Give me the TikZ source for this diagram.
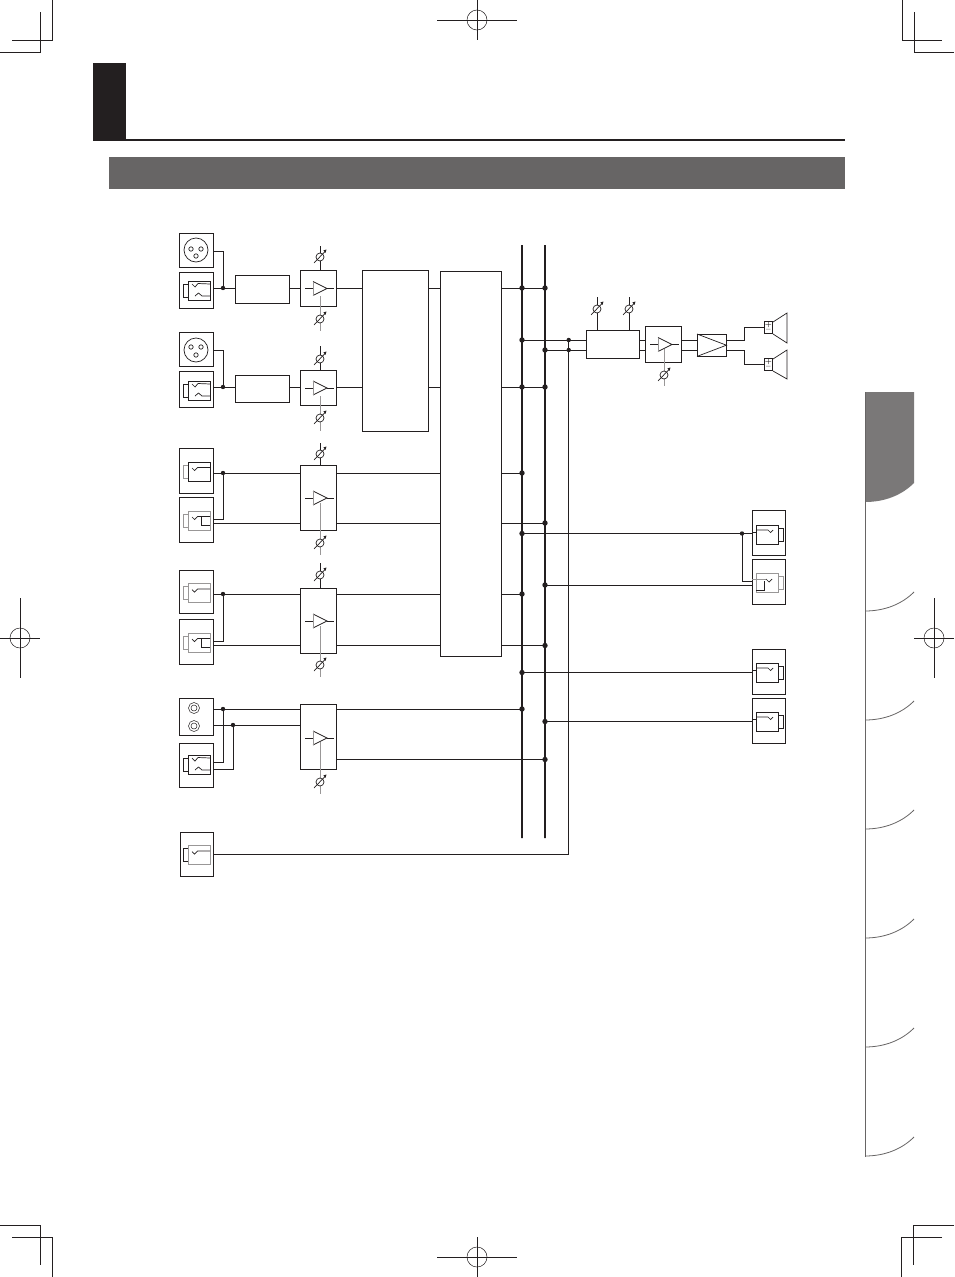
\documentclass[tikz,border=0pt]{standalone}
\usetikzlibrary{calc}
\definecolor{ink}{HTML}{231F20}
\definecolor{band}{HTML}{676565}
\definecolor{tab}{HTML}{7A7878}
\definecolor{soft}{HTML}{999797}
\tikzset{
  wire/.style={draw=ink,line width=0.9pt,line join=miter},
  blk/.style={draw=ink,line width=0.9pt,rectangle,inner sep=0pt,outer sep=0pt,fill=white},
  busline/.style={draw=ink,line width=2pt,rectangle,inner sep=0pt,outer sep=0pt,minimum width=0pt},
  icon/.style={draw=ink,line width=0.7pt},
  softicon/.style={draw=soft,line width=1pt},
  crop/.style={draw=ink,line width=0.9pt},
  reg/.style={draw=ink,line width=0.5pt},
  sign/.style={font=\fontsize{7}{7}\selectfont\bfseries,inner sep=0pt,text=ink}
}
\newcommand\blk[5]{\node[blk,minimum width={#4pt-#2pt-0.6pt},minimum height={#5pt-#3pt-0.6pt}] (#1) at ({(#2+#4)/2-0.3},{(#3+#5)/2-0.3}) {};}
\newcommand\dotat[2]{\fill[ink] (#1,#2) circle (2.2pt);}
\newcommand\busdot[2]{\fill[ink] (#1,#2) circle (2.7pt);}
% horizontal connector between two named nodes at height y
\newcommand\hw[3]{\draw[wire] (#1.east |- 0,#3) -- (#2.west |- 0,#3);}
% triangle amp symbol: x of box left, centre y
\newcommand\ampsym[2]{\begin{scope}[shift={(#1,#2)}]
  \draw[icon] (5,0) -- (13,0);
  \draw[icon] (13,-7) -- (27,0) -- (13,7);
  \draw[icon] (27,0) -- (34,0);
  \draw[softicon] (13,-7) -- (13,7);
\end{scope}}
% knob: x, y from, y to, circle y
\newcommand\knobtop[2]{\fill[white] (#1,#2) circle (4pt);
  \draw[icon] (#1,#2) circle (4pt);
  \draw[icon] ({#1-6},{#2+6}) -- ({#1+5},{#2-5.5});
  \fill[ink] ({#1+6.5},{#2-7.5}) -- ({#1+3.3},{#2-6.5}) -- ({#1+5.5},{#2-4.2}) -- cycle;}
\newcommand\knob[4]{\draw[icon] (#1,#2) -- (#1,#3);\knobtop{#1}{#4}}
\newcommand\softknob[4]{\draw[softicon] (#1,#2) -- (#1,#3);\knobtop{#1}{#4}}
% input jack outline (origin plug left, centre): #1 x, #2 y, #3 style plug, #4 style body
\newcommand\jackoutline[4]{\begin{scope}[shift={(#1,#2)}]
  \draw[#3] (5,-6.5) -- (0,-6.5) -- (0,6.5) -- (5,6.5);
  \draw[#4] (5,-9.5) rectangle (27,9.5);
\end{scope}}
\newcommand\tip[2]{\begin{scope}[shift={(#1,#2)}]
  \draw[icon] (9,-3.5) -- (11.5,-1) -- (14.5,-4) -- (27,-4);\end{scope}}
\newcommand\combotip[2]{\begin{scope}[shift={(#1,#2)}]
  \draw[icon] (9,-7) -- (12,-4) -- (15,-7.5) -- (27,-7);
  \draw[icon] (12,5) -- (15.5,2) -- (19,5) -- (27,5);\end{scope}}
\newcommand\switchtip[2]{\begin{scope}[shift={(#1,#2)}]
  \draw[icon] (9,-3.5) -- (11.5,-1) -- (14.5,-4) -- (27,-4);
  \draw[icon] (18,-4) -- (18,5) -- (27,5);\end{scope}}
% output jack: #1 y centre
\newcommand\outjack[1]{\begin{scope}[shift={(756,#1)}]
  \draw[icon] (0,-9.5) rectangle (22,9.5);
  \draw[icon] (22,-6.5) -- (27,-6.5) -- (27,6.5) -- (22,6.5);
  \draw[icon] (-4,-2) -- (0,-2);
  \draw[icon] (0,-4.5) -- (12,-4.5) -- (14.5,-2) -- (17,-4.5);
\end{scope}}
\newcommand\regmark[2]{\draw[crop] ({#1-40},#2) -- ({#1+40},#2); \draw[crop] (#1,{#2-20}) -- (#1,{#2+20});\draw[reg] (#1,#2) circle (10pt);}
\newcommand\regmarkv[2]{\draw[crop] ({#1-20},#2) -- ({#1+20},#2); \draw[crop] (#1,{#2-40}) -- (#1,{#2+40});\draw[reg] (#1,#2) circle (10pt);}
\begin{document}
\begin{tikzpicture}[x=1pt,y=-1pt]
\useasboundingbox (0,0) rectangle (954,1277);
\fill[white] (0,0) rectangle (954,1277);
% page furniture
\fill[ink] (93,63) rectangle (126,141);
\draw[ink,line width=2pt] (126,140) -- (845,140);
\fill[band] (109,157) rectangle (845,189);
\draw[crop] (52,0) -- (52,40) -- (12,40);
\draw[crop] (40,12) -- (40,52) -- (0,52);
\draw[crop] (902,0) -- (902,40) -- (942,40);
\draw[crop] (914,12) -- (914,52) -- (954,52);
\draw[crop] (0,1225) -- (40,1225) -- (40,1265);
\draw[crop] (12,1237) -- (52,1237) -- (52,1277);
\draw[crop] (954,1225) -- (913,1225) -- (913,1265);
\draw[crop] (942,1237) -- (901,1237) -- (901,1277);
\regmark{477}{20}
\regmark{477}{1257}
\regmarkv{20}{638}
\regmarkv{934}{638}
% side tabs
\fill[tab] (865,392) -- (914,392) -- (914,483) .. controls (902,495) and (885,502) .. (865,502) -- cycle;
\draw[band,line width=0.8pt] (865,392) -- (865,1157);
\foreach \yy in {611,720,829,938,1047,1156}{
  \draw[band,line width=0.8pt] (865,\yy) .. controls (885,\yy) and (902,\yy-7) .. (914,\yy-19);
}
% input panels
\blk{xlrA}{179}{233}{214}{268}
\blk{comA}{179}{272}{214}{309}
\blk{xlrB}{179}{332}{214}{367}
\blk{comB}{179}{371}{214}{408}
\blk{jkA}{179}{448}{214}{494}
\blk{jkB}{179}{497}{214}{543}
\blk{jkC}{179}{570}{214}{614}
\blk{jkD}{179}{619}{214}{665}
\blk{rca}{179}{698}{214}{736}
\blk{comC}{179}{743}{214}{788}
\blk{jkE}{180}{832}{214}{877}
% processing blocks
\blk{preA}{235}{275}{290}{304}
\blk{preB}{235}{375}{290}{403}
\blk{ampA}{300}{270}{337}{307}
\blk{ampB}{300}{370}{337}{406}
\blk{ampC}{300}{465}{337}{531}
\blk{ampD}{300}{588}{337}{654}
\blk{ampE}{300}{704}{337}{770}
\blk{proc}{362}{270}{429}{432}
\blk{mix}{440}{271}{502}{657}
\blk{vol}{586}{330}{640}{359}
\blk{ampF}{645}{326}{682}{363}
\blk{pwr}{697}{334}{727}{357}
\blk{outA}{752}{510}{786}{556}
\blk{outB}{752}{559}{786}{605}
\blk{outC}{752}{649}{786}{695}
\blk{outD}{752}{698}{786}{744}
\blk{spkA}{764}{321}{773}{334}
\blk{spkB}{764}{358}{773}{371}
% buses
\node[busline,minimum height=593pt] (busA) at (522,541.5) {};
\node[busline,minimum height=593pt] (busB) at (545,541.5) {};
\coordinate (busC) at (568.7,340);
% XLR sockets
\foreach \cy/\ha/\hb in {250/249/256,350/347/355}{
  \draw[icon] (196,\cy) circle (12pt);
  \draw[icon] (191,\ha) circle (2.2pt);
  \draw[icon] (201,\ha) circle (2.2pt);
  \draw[icon] (196,\hb) circle (2.2pt);
}
% RCA sockets
\foreach \cy in {708,726}{
  \draw[draw=ink,line width=0.5pt] (194,\cy) circle (5.5pt);
  \draw[draw=ink,line width=0.5pt] (194,\cy) circle (3pt);
}
% jack icons
\jackoutline{183}{291}{icon}{icon}\combotip{183}{291}
\jackoutline{183}{391}{icon}{icon}\combotip{183}{391}
\jackoutline{183}{471.5}{softicon}{icon}\tip{183}{471.5}
\jackoutline{183}{520.5}{softicon}{draw=soft,line width=0.8pt}\switchtip{183}{520.5}
\jackoutline{183}{593}{softicon}{softicon}\tip{183}{593}
\jackoutline{183}{642.5}{softicon}{draw=soft,line width=0.8pt}\switchtip{183}{642.5}
\jackoutline{183}{765}{icon}{icon}\combotip{183}{765}
\jackoutline{183}{855}{icon}{softicon}\tip{183}{855}
% output icons
\outjack{534.5}
\begin{scope}[shift={(756,583)}]
  \draw[softicon] (0,-9.5) rectangle (22,9.5);
  \draw[softicon] (22,-6.5) -- (27,-6.5) -- (27,6.5) -- (22,6.5);
  \draw[softicon] (-4,-4) -- (10,-4);
  \draw[icon] (10,-4) -- (13,-1) -- (16,-4);
  \draw[icon] (0,7) -- (8,7) -- (8,-2);
\end{scope}
\outjack{672.5}
\outjack{721.5}
% amp symbols and knobs
\softknob{320}{296}{331}{319}
\softknob{320}{396}{431}{418}
\softknob{320}{503}{555}{543}
\softknob{320}{626}{677}{665}
\softknob{320}{742}{794}{782}
\softknob{664}{349}{386}{375}
\knob{320}{246}{270}{257}
\knob{320}{346}{370}{359}
\knob{320}{443}{465}{454}
\knob{320}{563}{588}{575}
\knob{597}{297}{330}{309}
\knob{629}{297}{330}{309}
\ampsym{300}{288.5}
\ampsym{300}{388}
\ampsym{300}{498}
\ampsym{300}{621}
\ampsym{300}{738}
\ampsym{645}{344.5}
% power amp symbol
\draw[icon] (pwr.north west) -- (pwr.east) -- (pwr.south west);
% speakers
\draw[icon] (773,322) -- (787,313) -- (787,343) -- (773,334);
\draw[icon] (773,359) -- (787,350) -- (787,379) -- (773,371);
\node[sign] (plusA) at (768.3,325) {+};
\node[sign] (minusA) at (768.3,330.8) {--};
\node[sign] (plusB) at (768.3,362) {+};
\node[sign] (minusB) at (768.3,367.8) {--};
% connectors: channel 1
\draw[wire] (xlrA.east |- 0,251) -| (223,288);
\hw{comA}{preA}{288}
\hw{preA}{ampA}{288}
\hw{ampA}{proc}{288}
\hw{proc}{mix}{288}
\hw{mix}{busB}{288}
% channel 2
\draw[wire] (xlrB.east |- 0,350) -| (223,387);
\hw{comB}{preB}{387}
\hw{preB}{ampB}{387}
\hw{ampB}{proc}{387}
\hw{proc}{mix}{387}
\hw{mix}{busB}{387}
% channel 3
\hw{jkA}{ampC}{473}
\draw[wire] (jkB.east |- 0,519) -| (223,473);
\hw{jkB}{ampC}{523}
\hw{ampC}{mix}{473}
\hw{ampC}{mix}{523}
\hw{mix}{busA}{473}
\hw{mix}{busB}{523}
% channel 4
\hw{jkC}{ampD}{594}
\draw[wire] (jkD.east |- 0,641.5) -| (223,594);
\hw{jkD}{ampD}{645.5}
\hw{ampD}{mix}{594}
\hw{ampD}{mix}{645.5}
\hw{mix}{busA}{594}
\hw{mix}{busB}{645.5}
% channel 5
\hw{rca}{ampE}{709}
\hw{rca}{ampE}{725}
\draw[wire] (comC.east |- 0,762) -| (223,709);
\draw[wire] (comC.east |- 0,769) -| (233,725);
\hw{ampE}{busA}{709}
\hw{ampE}{busB}{759.5}
% aux in
\draw[wire] (jkE.east |- 0,854.5) -| (busC);
% master section
\hw{busA}{vol}{340}
\hw{busB}{vol}{350}
\hw{vol}{ampF}{340}
\hw{vol}{ampF}{350}
\hw{ampF}{pwr}{340}
\hw{ampF}{pwr}{350}
\draw[wire] (pwr.east |- 0,340) -- (744,340) |- (spkA.west);
\draw[wire] (pwr.east |- 0,350) -- (744,350) |- (spkB.west);
% outputs
\hw{busA}{outA}{533.5}
\draw[wire] (742,533.5) |- (outB.west |- 0,581);
\hw{busB}{outB}{585}
\hw{busA}{outC}{672.5}
\hw{busB}{outD}{721.5}
% junction dots
\foreach \yy in {288,340,387,473,533.5,594,672.5,709}{\busdot{522}{\yy}}
\foreach \yy in {288,350,387,523,585,645.5,721.5,759.5}{\busdot{545}{\yy}}
\dotat{568.7}{340}\dotat{568.7}{350}
\dotat{223}{288}\dotat{223}{387}\dotat{223}{473}\dotat{223}{594}\dotat{223}{709}\dotat{233}{725}
\dotat{742}{533.5}
\end{tikzpicture}
\end{document}
